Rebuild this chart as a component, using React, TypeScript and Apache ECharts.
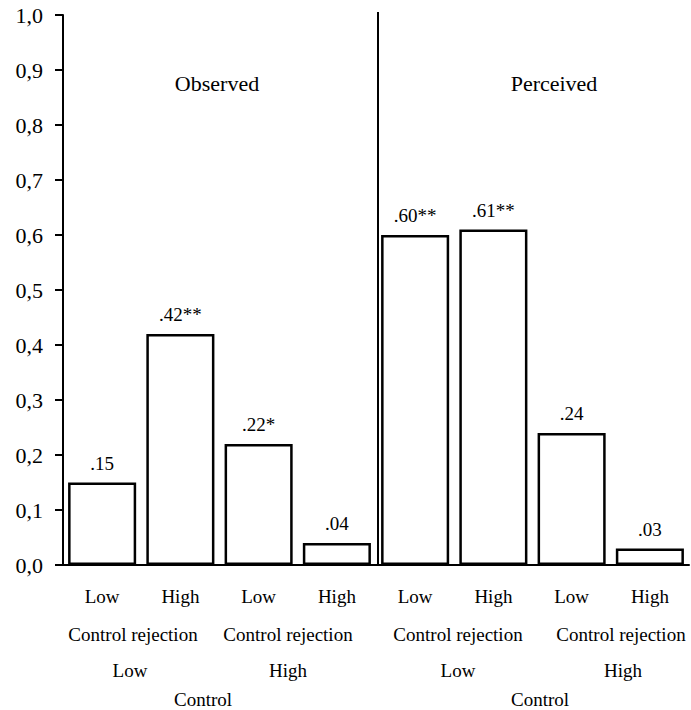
import React, { useEffect, useRef } from "react";
import * as echarts from "echarts";

const categories = ["Low", "High", "Low", "High", "Low", "High", "Low", "High"];
const values = [0.15, 0.42, 0.22, 0.04, 0.6, 0.61, 0.24, 0.03];
const valueLabels = [".15", ".42**", ".22*", ".04", ".60**", ".61**", ".24", ".03"];
const panelTitles = ["Observed", "Perceived"];
const rejectionRow = ["Control rejection", "Control rejection", "Control rejection", "Control rejection"];
const controlLevelRow = ["Low", "High", "Low", "High"];
const controlRow = ["Control", "Control"];

const FONT = "'Liberation Serif', 'Times New Roman', serif";

export default function App() {
  const ref = useRef<HTMLDivElement>(null);
  useEffect(() => {
    document.body.style.margin = "0";
    const chart = echarts.init(ref.current!, null, { renderer: "svg" });
    const rowX2 = [133, 288, 458, 621];
    const rowX3 = [130, 288, 458, 623];
    const rowX4 = [203, 540];
    const titleX = [217, 554];
    const txt = (text: string, x: number, y: number, size: number) => ({
      type: "text",
      x,
      y,
      style: {
        text,
        fontSize: size,
        fontFamily: FONT,
        fill: "#000",
        align: "center",
        verticalAlign: "middle",
      },
    });
    const graphics: any[] = [
      {
        type: "line",
        shape: { x1: 378, y1: 12, x2: 378, y2: 565 },
        style: { stroke: "#000", lineWidth: 2 },
      },
      ...panelTitles.map((t, i) => txt(t, titleX[i], 83, 22)),
      ...rejectionRow.map((t, i) => txt(t, rowX2[i], 634, 19)),
      ...controlLevelRow.map((t, i) => txt(t, rowX3[i], 670, 19)),
      ...controlRow.map((t, i) => txt(t, rowX4[i], 699, 19)),
    ];
    chart.setOption({
      animation: false,
      backgroundColor: "#fff",
      grid: { left: 63, right: 2, top: 15, bottom: 145, containLabel: false },
      xAxis: {
        type: "category",
        data: categories,
        axisLine: { show: true, lineStyle: { color: "#000", width: 2 } },
        axisTick: { show: false },
        axisLabel: {
          color: "#000",
          fontSize: 19,
          fontFamily: FONT,
          margin: 22,
          interval: 0,
        },
      },
      yAxis: {
        type: "value",
        min: 0,
        max: 1,
        interval: 0.1,
        axisLine: { show: true, lineStyle: { color: "#000", width: 2 } },
        axisTick: { show: true, inside: false, length: 8, lineStyle: { color: "#000", width: 2 } },
        axisLabel: {
          color: "#000",
          fontSize: 22,
          fontFamily: FONT,
          margin: 20,
          formatter: (v: number) => v.toFixed(1).replace(".", ","),
        },
        splitLine: { show: false },
      },
      series: [
        {
          type: "bar",
          data: values,
          barCategoryGap: "13%",
          itemStyle: { color: "#fff", borderColor: "#000", borderWidth: 2.5 },
          label: {
            show: true,
            position: "top",
            distance: 10,
            color: "#000",
            fontSize: 19,
            fontFamily: FONT,
            formatter: (p: any) => valueLabels[p.dataIndex],
          },
        },
      ],
      graphic: graphics,
    });
    return () => chart.dispose();
  }, []);
  return <div ref={ref} style={{ width: 691, height: 710 }} />;
}
